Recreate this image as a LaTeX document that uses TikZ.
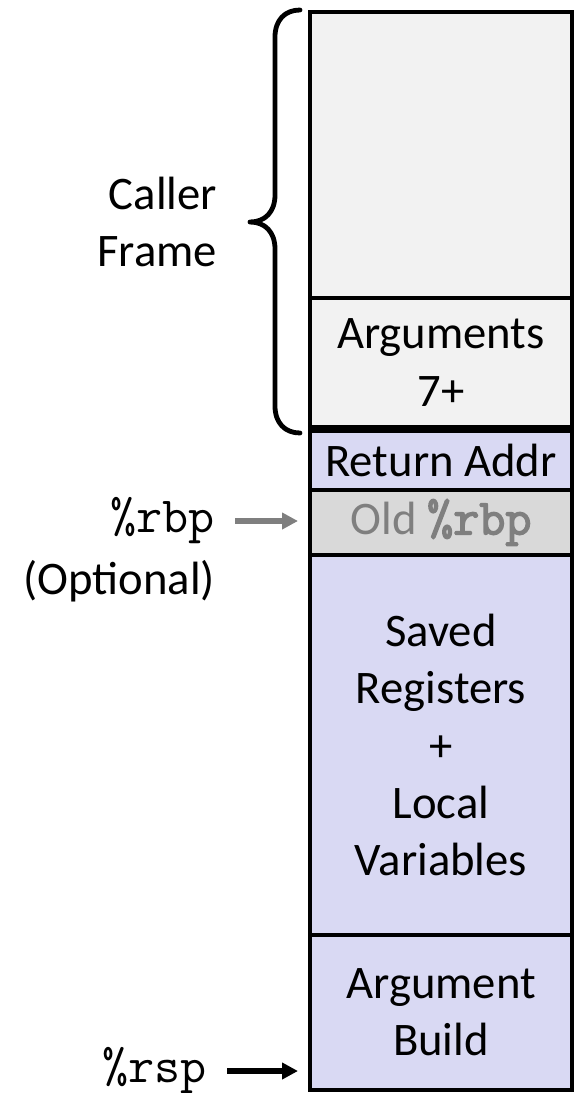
\documentclass[tikz,border=0pt]{standalone}
\usepackage{fontspec}
\setmainfont{Carlito}
\usetikzlibrary{arrows.meta}
\definecolor{lav}{RGB}{217,217,243}
\definecolor{lgray}{RGB}{242,242,242}
\definecolor{mgray}{RGB}{217,217,217}
\definecolor{tgray}{RGB}{127,127,127}
\newcommand\monosz{\fontsize{38}{43}\selectfont\ttfamily}
\newcommand\heavytext[1]{\special{pdf:literal direct 2 Tr 1.1 w}#1\special{pdf:literal direct 0 Tr}}
\begin{document}
\begin{tikzpicture}[x=0.75pt,y=-0.75pt,
  every node/.style={font=\fontsize{35}{43}\selectfont},
  mem/.style={draw=black, line width=3.6pt, minimum width=196.5pt, anchor=north,
    inner sep=0pt, outer sep=0pt, align=center},
  lbl/.style={inner sep=0pt, outer sep=0pt},
  regarrow/.style={line width=4.5pt, -{Triangle[length=12pt,width=12pt]},
    shorten <=15pt, shorten >=9pt},
  bracepath/.style={line width=3.6pt, line cap=round, line join=round}]
\useasboundingbox (0,0) rectangle (575,1093);
% stack boxes
\node[mem, fill=lgray, minimum height=214.5pt] (caller) at (441,12) {};
\node[mem, fill=lgray, minimum height=96.75pt] (args) at (441,298) {Arguments\\7+};
\node[mem, fill=lav, minimum height=44.25pt] (ret) at (441,431) {Return Addr};
\node[mem, fill=mgray, minimum height=48.75pt, text=tgray] (old) at (441,490) {Old {\monosz\heavytext{\%rbp}}};
\node[mem, fill=lav, minimum height=285pt] (saved) at (441,555) {Saved\\Registers\\+\\Local\\Variables};
\node[mem, fill=lav, minimum height=116.25pt] (argb) at (441,935) {Argument\\Build};
% brace
\draw[bracepath] (300,10) .. controls (285,10) and (275,20) .. (275,37) -- (275,195)
  .. controls (275,212) and (265,222) .. (250,222)
  .. controls (265,222) and (275,232) .. (275,249) -- (275,406)
  .. controls (275,423) and (285,433) .. (300,433);
\node[lbl, anchor=east, align=right] (cf) at (217,222) {Caller\\Frame};
% registers
\node[lbl, anchor=east, font=\monosz] (rbplbl) at (215,521) {\%rbp};
\node[lbl, anchor=east] (opt) at (215,581) {(Optional)};
\node[lbl, anchor=east, font=\monosz] (rsplbl) at (207,1071) {\%rsp};
\draw[regarrow, draw=tgray, fill=tgray] (rbplbl.east) -- (rbplbl.east -| old.west);
\draw[regarrow, draw=black, fill=black] (rsplbl.east) -- (rsplbl.east -| argb.west);
\end{tikzpicture}
\end{document}
